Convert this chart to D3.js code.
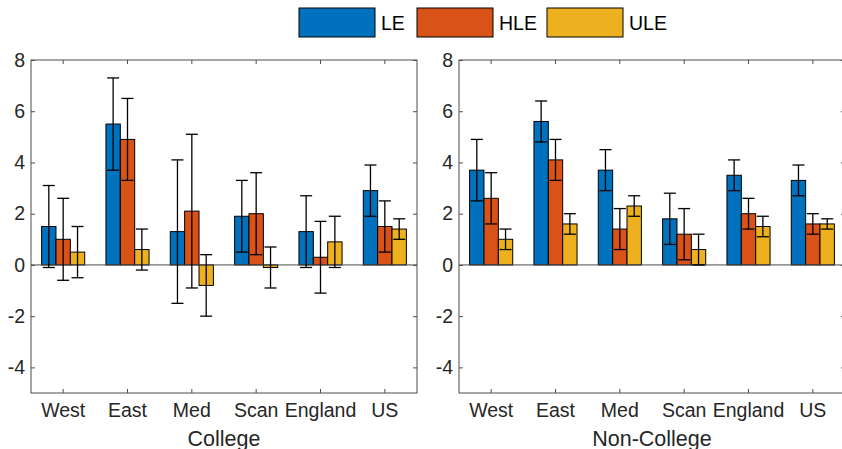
<!DOCTYPE html>
<html>
<head>
<meta charset="utf-8">
<script src="https://cdn.jsdelivr.net/npm/d3@7"></script>
<style>
  body { margin: 0; background: #fff; }
  svg { display: block; font-family: "Liberation Sans", Arial, sans-serif; }
  .axis path, .axis line { stroke: #4d4d4d; }
  .axis text { fill: #262626; font-size: 19.5px; }
</style>
</head>
<body>
<svg id="chart" width="842" height="449"></svg>
<script>
const regions = ['West', 'East', 'Med', 'Scan', 'England', 'US'];
const seriesNames = ['LE', 'HLE', 'ULE'];
const seriesColors = ['#0072BD', '#D95319', '#EDB120'];
const yTicks = [-4, -2, 0, 2, 4, 6, 8];

// College: rows are LE, HLE, ULE
const collegeVal = [
  [1.5, 5.5, 1.3, 1.9, 1.3, 2.9],
  [1.0, 4.9, 2.1, 2.0, 0.3, 1.5],
  [0.5, 0.6, -0.8, -0.1, 0.9, 1.4]
];
const collegeLo = [
  [-0.1, 3.7, -1.5, 0.5, -0.1, 1.9],
  [-0.6, 3.3, -0.9, 0.4, -1.1, 0.5],
  [-0.5, -0.2, -2.0, -0.9, -0.1, 1.0]
];
const collegeHi = [
  [3.1, 7.3, 4.1, 3.3, 2.7, 3.9],
  [2.6, 6.5, 5.1, 3.6, 1.7, 2.5],
  [1.5, 1.4, 0.4, 0.7, 1.9, 1.8]
];

// Non-College
const nonCollegeVal = [
  [3.7, 5.6, 3.7, 1.8, 3.5, 3.3],
  [2.6, 4.1, 1.4, 1.2, 2.0, 1.6],
  [1.0, 1.6, 2.3, 0.6, 1.5, 1.6]
];
const nonCollegeLo = [
  [2.5, 4.8, 2.9, 0.8, 2.9, 2.7],
  [1.6, 3.3, 0.6, 0.2, 1.4, 1.2],
  [0.6, 1.2, 1.9, 0.0, 1.1, 1.4]
];
const nonCollegeHi = [
  [4.9, 6.4, 4.5, 2.8, 4.1, 3.9],
  [3.6, 4.9, 2.2, 2.2, 2.6, 2.0],
  [1.4, 2.0, 2.7, 1.2, 1.9, 1.8]
];

const svg = d3.select('#chart');
const plotTop = 60, plotBottom = 393;
const panelWidth = 386;
const capHalf = 6;
const tickLen = 4;

function drawPanel(left, title, vals, los, his) {
  const right = left + panelWidth;

  const x = d3.scaleBand()
    .domain(regions)
    .range([left, right])
    .paddingInner(0.33)
    .paddingOuter(0.165);

  const xs = d3.scaleBand()
    .domain(seriesNames)
    .range([0, x.bandwidth()]);

  const y = d3.scaleLinear()
    .domain([-5, 8])
    .range([plotBottom, plotTop]);

  const g = svg.append('g');

  // axes (inward ticks, box on)
  g.append('g')
    .attr('class', 'axis')
    .attr('transform', 'translate(0,' + plotBottom + ')')
    .call(d3.axisBottom(x).tickSizeInner(-tickLen).tickSizeOuter(0).tickPadding(10))
    .call(a => a.select('.domain').remove());

  g.append('g')
    .attr('class', 'axis')
    .attr('transform', 'translate(0,' + plotTop + ')')
    .call(d3.axisTop(x).tickSizeInner(-tickLen).tickSizeOuter(0).tickFormat(''))
    .call(a => a.select('.domain').remove());

  g.append('g')
    .attr('class', 'axis')
    .attr('transform', 'translate(' + left + ',0)')
    .call(d3.axisLeft(y).tickValues(yTicks).tickFormat(d => String(d))
      .tickSizeInner(-tickLen).tickSizeOuter(0).tickPadding(6))
    .call(a => a.select('.domain').remove());

  g.append('g')
    .attr('class', 'axis')
    .attr('transform', 'translate(' + right + ',0)')
    .call(d3.axisRight(y).tickValues(yTicks).tickSizeInner(-tickLen).tickSizeOuter(0).tickFormat(''))
    .call(a => a.select('.domain').remove());

  g.append('rect')
    .attr('x', left)
    .attr('y', plotTop)
    .attr('width', panelWidth)
    .attr('height', plotBottom - plotTop)
    .attr('fill', 'none')
    .attr('stroke', '#4d4d4d')
    .attr('stroke-width', 1);

  // bars
  const rows = [];
  seriesNames.forEach((s, j) => {
    regions.forEach((r, i) => {
      rows.push({ region: r, series: s, j: j, v: vals[j][i], lo: los[j][i], hi: his[j][i] });
    });
  });

  g.selectAll('.bar')
    .data(rows)
    .enter()
    .append('rect')
    .attr('class', 'bar')
    .attr('x', d => x(d.region) + xs(d.series))
    .attr('width', xs.bandwidth())
    .attr('y', d => y(Math.max(0, d.v)))
    .attr('height', d => Math.abs(y(d.v) - y(0)))
    .attr('fill', d => seriesColors[d.j])
    .attr('stroke', '#000')
    .attr('stroke-width', 1);

  // zero baseline
  g.append('line')
    .attr('x1', left)
    .attr('x2', right)
    .attr('y1', y(0))
    .attr('y2', y(0))
    .attr('stroke', '#4d4d4d')
    .attr('stroke-width', 1);

  // error bars
  const eb = g.selectAll('.err')
    .data(rows)
    .enter()
    .append('g')
    .attr('class', 'err')
    .attr('stroke', '#000')
    .attr('stroke-width', 1.3);

  const cx = d => x(d.region) + xs(d.series) + xs.bandwidth() / 2;

  eb.append('line')
    .attr('x1', cx).attr('x2', cx)
    .attr('y1', d => y(d.lo)).attr('y2', d => y(d.hi));
  eb.append('line')
    .attr('x1', d => cx(d) - capHalf).attr('x2', d => cx(d) + capHalf)
    .attr('y1', d => y(d.lo)).attr('y2', d => y(d.lo));
  eb.append('line')
    .attr('x1', d => cx(d) - capHalf).attr('x2', d => cx(d) + capHalf)
    .attr('y1', d => y(d.hi)).attr('y2', d => y(d.hi));

  g.append('text')
    .attr('x', (left + right) / 2)
    .attr('y', 446)
    .attr('text-anchor', 'middle')
    .style('font-size', '21.5px')
    .style('fill', '#262626')
    .text(title);
}

drawPanel(31, 'College', collegeVal, collegeLo, collegeHi);
drawPanel(459, 'Non-College', nonCollegeVal, nonCollegeLo, nonCollegeHi);

// Legend
const legendX = [299, 417, 547];
const legend = svg.selectAll('.legend')
  .data(seriesNames)
  .enter()
  .append('g')
  .attr('class', 'legend')
  .attr('transform', (d, i) => 'translate(' + legendX[i] + ',8)');

legend.append('rect')
  .attr('width', 76)
  .attr('height', 29)
  .attr('fill', (d, i) => seriesColors[i])
  .attr('stroke', '#000')
  .attr('stroke-width', 1);

legend.append('text')
  .attr('x', 82)
  .attr('y', 22)
  .style('font-size', '19.5px')
  .style('fill', '#000')
  .text(d => d);
</script>
</body>
</html>
